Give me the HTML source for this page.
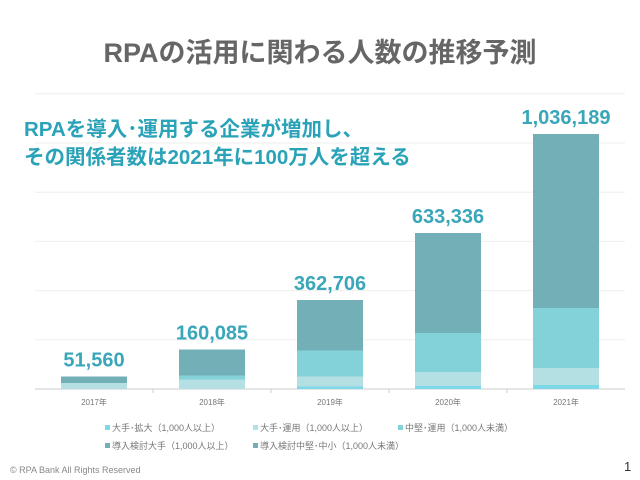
<!DOCTYPE html>
<html><head><meta charset="utf-8"><style>
body{margin:0;width:640px;height:480px;background:#fff;overflow:hidden;font-family:"Liberation Sans","Noto Sans CJK JP",sans-serif;}
svg{display:block}
</style></head><body>
<svg id="chart" width="640" height="480">
<text x="320" y="62" text-anchor="middle" font-size="27" font-weight="bold" fill="#666" font-family="Liberation Sans, Noto Sans CJK JP, sans-serif">RPAの活用に関わる人数の推移予測</text>
<g id="grid"></g><g id="bars" shape-rendering="crispEdges"></g><g id="labels"></g>
<text x="24" y="136" font-size="20.5" font-weight="bold" fill="#2aa3b8" font-family="Liberation Sans, Noto Sans CJK JP, sans-serif">RPAを導入･運用する企業が増加し、</text>
<text x="24" y="164" font-size="20.5" font-weight="bold" fill="#2aa3b8" font-family="Liberation Sans, Noto Sans CJK JP, sans-serif">その関係者数は2021年に100万人を超える</text>
<g id="legend"></g>
<text x="10" y="473" font-size="9" fill="#888">© RPA Bank All Rights Reserved</text>
<text x="624" y="471" font-size="13" fill="#333">1</text>
</svg>
<script>
const categories=["2017年","2018年","2019年","2020年","2021年"];
const totals=[51560,160085,362706,633336,1036189];
const totalLabels=["51,560","160,085","362,706","633,336","1,036,189"];
const seriesNames=["大手･拡大（1,000人以上）","大手･運用（1,000人以上）","中堅･運用（1,000人未満）","導入検討大手（1,000人以上）","導入検討中堅･中小（1,000人未満）"];
const s1=[1000,1000,10000,13000,17000];
const s2=[27000,37000,41000,56000,69000];
const s3=[1000,20000,109000,163000,248000];
const s4=[7000,31000,61000,120000,210000];
const s5=[15560,71085,141706,281336,492189];
const gridTicks=[0,200000,400000,600000,800000,1000000,1200000];
const colors=["#7dd8e8","#b4dfe3","#84d2d9","#73afb6","#73afb6"];
const NS="http://www.w3.org/2000/svg";
const x0=35,x1=625,base=389,pxPer=49.2/200000;
const band=(x1-x0)/categories.length,barW=66;
const y=v=>base-v*pxPer;
const xc=i=>x0+band*(i+0.5);
function mk(t,a,p){const e=document.createElementNS(NS,t);for(const k in a)e.setAttribute(k,a[k]);p.appendChild(e);return e;}
const grid=document.getElementById('grid');
gridTicks.forEach(v=>{if(v===0)return;const l=mk('line',{x1:x0,x2:x1,y1:y(v),y2:y(v),stroke:'#eee','stroke-width':1},grid);

});
const ax=mk('line',{x1:x0,x2:x1,y1:base,y2:base,stroke:'#ccc','stroke-width':1},grid);


const bars=document.getElementById('bars'),labels=document.getElementById('labels');
const series=[s1,s2,s3,s4,s5];
categories.forEach((c,i)=>{let acc=0;
series.forEach((s,k)=>{const r=mk('rect',{x:xc(i)-barW/2,y:y(acc+s[i]),width:barW,height:s[i]*pxPer+(k===3?1:0),fill:colors[k]},bars);


acc+=s[i];});
const t=mk('text',{x:xc(i),y:y(totals[i])-10,'text-anchor':'middle','font-size':20,'font-weight':'bold',fill:'#3aa6b9'},labels);t.textContent=totalLabels[i];


const tl=mk('text',{x:xc(i),y:405,'text-anchor':'middle','font-size':8,fill:'#777'},labels);tl.textContent=c;


if(i>0){const tk=mk('line',{x1:x0+band*i,x2:x0+band*i,y1:base,y2:base+4,stroke:'#ccc'},labels);

}
});
const lg=document.getElementById('legend');
const lpos=[[105,431],[253,431],[398,431],[105,449],[253,449]];
seriesNames.forEach((n,k)=>{const g=mk('g',{},lg);


mk('rect',{x:lpos[k][0],y:lpos[k][1]-6,width:5,height:5,fill:colors[k]},g);
const t=mk('text',{x:lpos[k][0]+7,y:lpos[k][1],'font-size':9,fill:'#777'},g);t.textContent=n;});
</script>
</body></html>
